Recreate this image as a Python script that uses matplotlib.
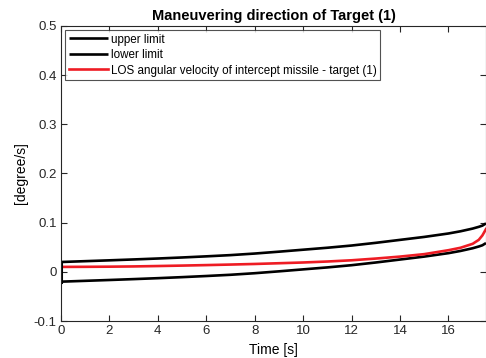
import numpy as np
import matplotlib.pyplot as plt

plt.rcParams['font.family'] = ['Liberation Sans', 'DejaVu Sans']

# time samples [s]
t = [0, 1, 2, 3, 4, 5, 6, 7, 8, 9, 10, 11, 12, 13, 14, 15, 16, 16.5, 17, 17.25, 17.4, 17.55]
# upper limit of LOS angular velocity [degree/s]
upper = [0.020, 0.0217, 0.0234, 0.0252, 0.0271, 0.0292, 0.0315, 0.034, 0.0372, 0.041, 0.045,
         0.049, 0.0535, 0.059, 0.065, 0.071, 0.078, 0.0825, 0.088, 0.0915, 0.094, 0.0985]
# lower limit sits 0.04 below the upper one
lower = [u - 0.04 for u in upper]
# LOS angular velocity of intercept missile - target (1)
los = [0.010, 0.0102, 0.0105, 0.011, 0.0118, 0.0127, 0.0137, 0.0148, 0.016, 0.0175, 0.019,
       0.021, 0.0235, 0.027, 0.031, 0.036, 0.044, 0.049, 0.057, 0.065, 0.074, 0.087]

fig = plt.figure(figsize=(4.86, 3.58), dpi=100)
ax = fig.add_axes([61/486, 37/358, 425/486, 295/358])

ax.plot(t, upper, color='k', lw=1.9, label='upper limit', solid_capstyle='butt')
ax.plot(t, lower, color='k', lw=1.9, label='lower limit', solid_capstyle='butt')
ax.plot(t, los, color='#ee1c24', lw=1.9, label='LOS angular velocity of intercept missile - target (1)')
# closing edge of the limit band at t = 0
ax.plot([t[0], t[0]], [lower[0], upper[0]], color='k', lw=2.2)

ax.set_xlim(0, 17.55)
ax.set_ylim(-0.1, 0.5)
ax.set_xticks(np.arange(0, 17, 2))
ax.set_yticks([-0.1, 0, 0.1, 0.2, 0.3, 0.4, 0.5])
ax.set_yticklabels(['-0.1', '0', '0.1', '0.2', '0.3', '0.4', '0.5'])
ax.tick_params(direction='in', length=4, width=0.8, labelsize=9.5, colors='#262626',
               top=True, right=True, pad=3)
for s in ax.spines.values():
    s.set_color('#262626')
    s.set_linewidth(0.8)

ax.set_title('Maneuvering direction of Target (1)', fontsize=10.5, fontweight='bold', pad=4)
ax.set_xlabel('Time [s]', fontsize=10, labelpad=4)
ax.set_ylabel('[degree/s]', fontsize=10, labelpad=4)

leg = ax.legend(loc='upper left', fontsize=8.4, frameon=True, fancybox=False, edgecolor='#262626',
                handlelength=3.4, handletextpad=0.2, borderpad=0.3, labelspacing=0.3,
                borderaxespad=0.35)
leg.get_frame().set_linewidth(0.8)

fig.savefig('out.png', dpi=100)
